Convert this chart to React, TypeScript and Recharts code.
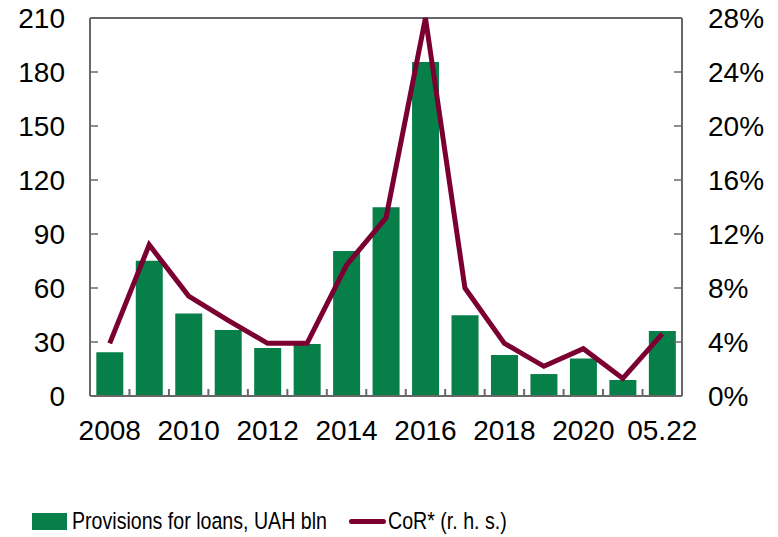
import React from "react";
import {
  ComposedChart,
  Bar,
  Line,
  XAxis,
  YAxis,
  CartesianGrid,
  ReferenceLine,
} from "recharts";

const categories = [
  "2008", "2009", "2010", "2011", "2012", "2013", "2014", "2015",
  "2016", "2017", "2018", "2019", "2020", "2021", "05.22",
];
const provisions = [
  24.3, 75.2, 45.9, 36.7, 26.7, 28.9, 80.5, 104.8,
  185.6, 44.8, 22.8, 12.2, 20.9, 8.9, 36.1,
];
const cor = [
  3.9, 11.2, 7.4, 5.6, 3.9, 3.9, 9.7, 13.2,
  28, 8.0, 3.9, 2.2, 3.5, 1.3, 4.6,
];
const leftTicks = [0, 30, 60, 90, 120, 150, 180, 210];
const rightTicks = [0, 4, 8, 12, 16, 20, 24, 28];

const data = categories.map((name, i) => ({
  name,
  provisions: provisions[i],
  cor: cor[i],
}));

const GREEN = "#077f48";
const WINE = "#7b0031";
const AXIS = "#686868";
const FONT = "'Liberation Sans', Arial, sans-serif";
const X_MARGIN = 14;

const XTick = (props: any) => {
  const { x, y, payload, index } = props;
  const half = payload && payload.offset ? payload.offset : 0;
  const axisY = y - X_MARGIN;
  return (
    <g>
      {index > 0 && (
        <line
          x1={x - half}
          x2={x - half}
          y1={axisY}
          y2={axisY - 7}
          stroke={AXIS}
          strokeWidth={2}
        />
      )}
      {index % 2 === 0 && (
        <text
          x={x}
          y={axisY + 44}
          textAnchor="middle"
          fill="#000"
          fontSize={28}
          fontFamily={FONT}
        >
          {payload.value}
        </text>
      )}
    </g>
  );
};

export default function App() {
  return (
    <div
      style={{
        position: "absolute",
        left: 0,
        top: 0,
        width: 778,
        height: 537,
        background: "#fff",
        fontFamily: FONT,
      }}
    >
      <ComposedChart
        width={778}
        height={537}
        data={data}
        margin={{ top: 18, right: 0, left: 0, bottom: 101 }}
        barCategoryGap="16%"
      >
        <CartesianGrid vertical={false} stroke="#c9cdd1" strokeWidth={1.5} />
        <XAxis
          dataKey="name"
          interval={0}
          height={40}
          tickSize={0}
          tickMargin={X_MARGIN}
          tick={<XTick />}
          axisLine={{ stroke: AXIS, strokeWidth: 2 }}
          tickLine={false}
        />
        <YAxis
          yAxisId="left"
          width={90}
          domain={[0, 210]}
          ticks={leftTicks}
          interval={0}
          tickSize={-8}
          tickMargin={33}
          axisLine={{ stroke: AXIS, strokeWidth: 2 }}
          tickLine={{ stroke: AXIS, strokeWidth: 1.5 }}
          tick={{ fill: "#000", fontSize: 28, fontFamily: FONT }}
        />
        <YAxis
          yAxisId="right"
          orientation="right"
          width={96}
          domain={[0, 28]}
          ticks={rightTicks}
          interval={0}
          tickSize={-8}
          tickMargin={34}
          tickFormatter={(v: number) => `${v}%`}
          axisLine={{ stroke: AXIS, strokeWidth: 2 }}
          tickLine={{ stroke: AXIS, strokeWidth: 1.5 }}
          tick={{ fill: "#000", fontSize: 28, fontFamily: FONT, textAnchor: "start" }}
        />
        <ReferenceLine yAxisId="left" y={210} stroke={AXIS} strokeWidth={2} />
        <Bar
          yAxisId="left"
          dataKey="provisions"
          name="Provisions for loans, UAH bln"
          fill={GREEN}
          isAnimationActive={false}
        />
        <Line
          yAxisId="right"
          dataKey="cor"
          name="CoR* (r. h. s.)"
          stroke={WINE}
          strokeWidth={5}
          dot={false}
          type="linear"
          isAnimationActive={false}
        />
      </ComposedChart>
      <div
        style={{
          position: "absolute",
          left: 32,
          top: 507,
          display: "flex",
          alignItems: "center",
          whiteSpace: "nowrap",
          fontSize: 24.5,
          color: "#000",
        }}
      >
        <span style={{ display: "inline-block", width: 35, height: 17, background: GREEN }} />
        <span
          style={{
            display: "inline-block",
            marginLeft: 5,
            transform: "scaleX(0.8)",
            transformOrigin: "left center",
            width: 255,
          }}
        >
          Provisions for loans, UAH bln
        </span>
        <span
          style={{
            display: "inline-block",
            width: 37,
            height: 5,
            borderRadius: 3,
            background: WINE,
            marginLeft: 22,
          }}
        />
        <span
          style={{
            display: "inline-block",
            marginLeft: 2,
            transform: "scaleX(0.8)",
            transformOrigin: "left center",
          }}
        >
          CoR* (r. h. s.)
        </span>
      </div>
    </div>
  );
}
